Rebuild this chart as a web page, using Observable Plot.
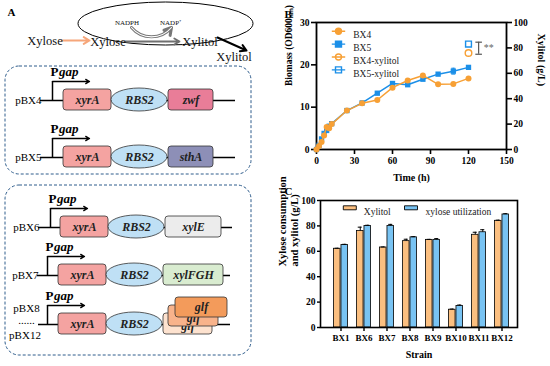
<!DOCTYPE html>
<html><head><meta charset="utf-8">
<script src="https://cdn.jsdelivr.net/npm/d3@7"></script>
<script src="https://cdn.jsdelivr.net/npm/@observablehq/plot@0.6"></script>
<style>
html,body{margin:0;padding:0;background:#fff;}
#fig{position:relative;width:550px;height:366px;overflow:hidden;background:#fff;}
#fig > svg, #fig > figure{position:absolute;margin:0;}
</style></head><body><div id="fig"></div>
<script>
// ================= DATA =================
// Panel B: biomass time course (OD600) and final xylitol (g/L)
const timeH = [0,2,4,6,8,10,12,24,36,48,60,72,84,96,108,120];
const biomassBX4 = [0,0.8,1.8,3.3,5.3,5.0,6.0,9.2,10.9,11.7,14.6,16.3,17.5,15.4,15.5,16.8];
const biomassBX5 = [0,1.0,2.5,3.8,4.5,5.5,6.1,9.2,11.0,13.3,15.6,15.3,16.6,17.8,18.5,19.4];
const errBX4 = [0,0,0,0,0.3,0,0,0,0,0,0.3,0,0.3,0,0,0];
const errBX5 = [0,0,0,0,0,0,0,0,0,0.3,0.4,0,0,0.2,0.7,0.2];
const xylitolTime = [120];
const xylitolBX4 = [76];
const xylitolBX5 = [83];
const sigRange = [75, 84.5];
const sigLabel = "**";
const seriesB = ["BX4","BX5","BX4-xylitol","BX5-xylitol"];
const biomassTicks = [0,10,20,30];
const xylitolTicks = [0,20,40,60,80,100];
const timeTicks = [0,30,60,90,120,150];

// Panel C: xylitol and xylose utilization per strain (g/L)
const strains = ["BX1","BX6","BX7","BX8","BX9","BX10","BX11","BX12"];
const xylitolC = [62,76,63,68,69,14,73,84];
const xylitolCErr = [0.4,3,0.4,1.5,0.4,0.5,2,0.5];
const xyloseUtil = [65,80,80,71,69,17,75,89];
const xyloseUtilErr = [0.5,0.5,1.2,0.5,1,0.7,2,0.6];
const seriesC = ["Xylitol","xylose utilization"];
const yTicksC = [0,20,40,60,80,100];

// Panel A: constructs
const constructNames = [["pBX4"],["pBX5"],["pBX6"],["pBX7"],["pBX8","......","pBX12"]];
const geneSets = [["xyrA","RBS2","zwf"],["xyrA","RBS2","sthA"],["xyrA","RBS2","xylE"],["xyrA","RBS2","xylFGH"],["xyrA","RBS2","glf"]];
const promoterName = ["P","gap"];
const pathwayWords = ["Xylose","Xylose","Xylitol","Xylitol","NADPH","NADP\u207A"];

// ================= STYLE / LAYOUT =================
const serif = '"Liberation Serif","Times New Roman",serif';
const orange = "#f7a035", blue = "#1b8fe8";
const barOrange = "#fbbf80", barBlue = "#78c3f3";
const geneColors = {xyrA:"#f4a3a1", RBS2:"#bfe0f5", zwf:"#e97d98", sthA:"#8d8fb7", xylE:"#ececec", xylFGH:"#d9ecd0", glf:"#f39b5b"};
const stackColors = ["#fde2cf","#f8b38b"];
const fig = document.getElementById("fig");
function place(el, left, top){ el.style.left = left+"px"; el.style.top = top+"px"; fig.appendChild(el); }

// ================= PANEL A =================
const rowY = [100,157,227,275,324];
const rowX0 = [63,63,60,58,58];
const promX = [52,52,50,47,47];
const lineX0 = [40,40,38,37,38];
const lineX1 = [235,235,232,230,230];
const thirdW = [45,45,56,60,52];
const rows = constructNames.map((names,i)=>({names, genes:geneSets[i], y:rowY[i], x0:rowX0[i], px:promX[i], lx0:lineX0[i], lx1:lineX1[i], w:thirdW[i], i}));
const simpleRows = rows.slice(0,4), stackRow = rows.slice(4);
const boxes = [{x1:5,x2:251,y1:66,y2:174},{x1:5,x2:251,y1:185,y2:355}];
const endLabels = [], midLabels = [];
rows.forEach(r=>{
  if (r.names.length===1) endLabels.push({t:r.names[0], x:r.lx0+1, y:r.y});
  else { midLabels.push({t:r.names[0], x:26, y:r.y-16}); midLabels.push({t:r.names[1], x:26, y:r.y-4}); midLabels.push({t:r.names[2], x:24.5, y:r.y+11}); }
});
const wordPos = [[44.5,40],[107.5,41],[199.5,41],[233.5,56],[126.5,22],[170,22]];
const words = pathwayWords.map((t,i)=>({t, x:wordPos[i][0], y:wordPos[i][1], s: i>=4?7:12.5}));
const stackLayers = [
  {dx1:105, dx2:154, dy1:-11, dy2:10, fill:stackColors[0], ty:2},
  {dx1:110, dx2:160, dy1:-19, dy2:2, fill:stackColors[1], ty:-6},
  {dx1:117, dx2:169, dy1:-27, dy2:-7, fill:geneColors.glf, ty:-17}
];
const stackMarks = [];
stackLayers.forEach(L=>{
  stackMarks.push(Plot.rect(stackRow,{x1:d=>d.x0+L.dx1,x2:d=>d.x0+L.dx2,y1:d=>d.y+L.dy1,y2:d=>d.y+L.dy2,fill:L.fill,stroke:"#333",strokeWidth:0.8,rx:3}));
  stackMarks.push(Plot.text(stackRow,{x:d=>d.x0+(L.dx1+L.dx2)/2,y:d=>d.y+L.ty,text:d=>d.genes[2],fontSize:12,fontWeight:"bold",fontStyle:"italic",fill:"#222"}));
});
const panelA = Plot.plot({
  width:270, height:366, margin:0,
  x:{type:"identity"}, y:{type:"identity"},
  style:{fontFamily:serif, background:"transparent", color:"black", overflow:"visible"},
  marks:[
    Plot.text(["A"],{x:()=>11,y:()=>12,fontSize:11,fontWeight:"bold"}),
    // pathway
    Plot.rect([0],{x1:()=>78,x2:()=>253,y1:()=>2,y2:()=>45,rx:88,ry:22,fill:"none",stroke:"black",strokeWidth:1}),
    Plot.arrow([0],{x1:()=>62,x2:()=>89,y1:()=>40,y2:()=>40,stroke:"#f6a67a",strokeWidth:2,headLength:5}),
    Plot.arrow([0],{x1:()=>125,x2:()=>179,y1:()=>41,y2:()=>41,stroke:"#6f6f6f",strokeWidth:1.8,headLength:5}),
    Plot.arrow([0],{x1:()=>217,x2:()=>246,y1:()=>37,y2:()=>50,stroke:"black",strokeWidth:2,headLength:5}),
    Plot.arrow([0],{x1:()=>131,x2:()=>171,y1:()=>27,y2:()=>27,bend:-50,stroke:"#777",strokeWidth:3,headLength:4}),
    Plot.arrow([0],{x1:()=>131,x2:()=>171,y1:()=>27,y2:()=>27,bend:-50,stroke:"white",strokeWidth:1.1,headLength:0}),
    Plot.text(words,{x:"x",y:"y",text:"t",fontSize:"s",fill:"#111"}),
    // dashed boxes
    Plot.rect(boxes,{x1:"x1",x2:"x2",y1:"y1",y2:"y2",rx:14,ry:14,fill:"none",stroke:"#2f5d8c",strokeDasharray:"3,2",strokeWidth:1}),
    // backbone & promoter
    Plot.ruleY(rows,{y:"y",x1:"lx0",x2:"lx1",stroke:"black",strokeWidth:1.6}),
    Plot.ruleX(rows,{x:"px",y1:"y",y2:d=>d.y-19,stroke:"black",strokeWidth:1.5}),
    Plot.arrow(rows,{x1:"px",x2:d=>d.px+37,y1:d=>d.y-19,y2:d=>d.y-19,stroke:"black",strokeWidth:1.3,headLength:5}),
    Plot.text(rows,{x:d=>d.px-2,y:d=>d.y-29,text:()=>promoterName[0],textAnchor:"start",fontSize:13,fontWeight:"bold"}),
    Plot.text(rows,{x:d=>d.px+6.5,y:d=>d.y-29,text:()=>promoterName[1],textAnchor:"start",fontSize:13,fontWeight:"bold",fontStyle:"italic"}),
    Plot.text(endLabels,{x:"x",y:"y",text:"t",textAnchor:"end",fontSize:11}),
    Plot.text(midLabels,{x:"x",y:"y",text:"t",textAnchor:"middle",fontSize:11}),
    // genes
    Plot.rect(rows,{x1:"x0",x2:d=>d.x0+48,y1:d=>d.y-11,y2:d=>d.y+10,fill:geneColors.xyrA,stroke:"#333",strokeWidth:0.8,rx:3}),
    Plot.rect(rows,{x1:d=>d.x0+48,x2:d=>d.x0+104,y1:d=>d.y-12,y2:d=>d.y+11,fill:geneColors.RBS2,stroke:"#333",strokeWidth:0.8,rx:28,ry:11.5}),
    Plot.rect(simpleRows,{x1:d=>d.x0+105,x2:d=>d.x0+105+d.w,y1:d=>d.y-11,y2:d=>d.y+10,fill:d=>geneColors[d.genes[2]],stroke:"#333",strokeWidth:0.8,rx:3}),
    ...stackMarks,
    Plot.text(rows,{x:d=>d.x0+24,y:d=>d.y,text:d=>d.genes[0],fontSize:12,fontWeight:"bold",fontStyle:"italic",fill:"#222"}),
    Plot.text(rows,{x:d=>d.x0+76,y:d=>d.y,text:d=>d.genes[1],fontSize:12,fontWeight:"bold",fontStyle:"italic",fill:"#222"}),
    Plot.text(simpleRows,{x:d=>d.x0+105+d.w/2,y:d=>d.y,text:d=>d.genes[2],fontSize:12,fontWeight:"bold",fontStyle:"italic",fill:"#222"})
  ]
});
place(panelA, 0, 0);

// ================= PANEL B =================
const k = 30/100; // xylitol (g/L) -> biomass axis units
const b4 = timeH.map((t,i)=>({t, v:biomassBX4[i], e:errBX4[i]}));
const b5 = timeH.map((t,i)=>({t, v:biomassBX5[i], e:errBX5[i]}));
const x4 = xylitolTime.map((t,i)=>({t, v:xylitolBX4[i]*k}));
const x5 = xylitolTime.map((t,i)=>({t, v:xylitolBX5[i]*k}));
const sig = [{t: xylitolTime[0]+8, lo: sigRange[0]*k, hi: sigRange[1]*k}];
function legendSym(shape){
  return {draw(ctx){ const r=3; ctx.moveTo(-6.7,0); ctx.lineTo(6.7,0);
    if(shape==="circle"){ ctx.moveTo(r,0); ctx.arc(0,0,r,0,2*Math.PI);} else { ctx.rect(-r,-r,2*r,2*r);} }};
}
const legB = [
  {c:orange, shape:"circle", fill:orange},
  {c:blue, shape:"square", fill:blue},
  {c:orange, shape:"circle", fill:"white"},
  {c:blue, shape:"square", fill:"white"}
];
const legendBMarks = [];
seriesB.forEach((s,i)=>{
  const L = legB[i];
  legendBMarks.push(Plot.dot([s],{frameAnchor:"top-left",dx:22,dy:8.7+i*12.9,symbol:legendSym(L.shape),fill:L.fill,stroke:L.c,strokeWidth:1.4}));
  legendBMarks.push(Plot.text([s],{frameAnchor:"top-left",dx:36.7,dy:8.7+i*12.9,textAnchor:"start",fontSize:9.5,fill:"#222"}));
});
const errMarks = (rowsE, c) => [
  Plot.ruleX(rowsE.filter(d=>d.e>0),{x:"t",y1:d=>d.v-d.e,y2:d=>d.v+d.e,stroke:c,strokeWidth:1}),
  Plot.link(rowsE.filter(d=>d.e>0),{x1:d=>d.t-1.6,x2:d=>d.t+1.6,y1:d=>d.v+d.e,y2:d=>d.v+d.e,stroke:c,strokeWidth:1}),
  Plot.link(rowsE.filter(d=>d.e>0),{x1:d=>d.t-1.6,x2:d=>d.t+1.6,y1:d=>d.v-d.e,y2:d=>d.v-d.e,stroke:c,strokeWidth:1})
];
const panelB = Plot.plot({
  width:280, height:190, marginLeft:46, marginRight:44, marginTop:22, marginBottom:41,
  x:{domain:[0,150]}, y:{domain:[0,30]},
  style:{fontFamily:serif, background:"transparent", color:"black", overflow:"visible"},
  marks:[
    Plot.text(["B"],{frameAnchor:"top-left",dx:-32,dy:-12,fontSize:11,fontWeight:"bold"}),
    Plot.axisX({ticks:timeTicks, tickSize:5, tickPadding:3, strokeWidth:1.6, fontSize:9.5, fontWeight:"bold", label:null}),
    Plot.axisY({ticks:biomassTicks, tickSize:5, tickPadding:2, strokeWidth:1.6, fontSize:9.5, fontWeight:"bold", label:null}),
    Plot.axisY({anchor:"right", ticks:xylitolTicks.map(v=>v*k), tickFormat:d=>Math.round(d/k), tickSize:5, tickPadding:2, strokeWidth:1.6, fontSize:9.5, fontWeight:"bold", label:null}),
    Plot.frame({stroke:"black", strokeWidth:1.8}),
    Plot.text(["Biomass (OD600\u2099\u2098)"],{frameAnchor:"left",dx:-28,rotate:-90,fontSize:9.5,fontWeight:"bold"}),
    Plot.text(["Xylitol (g/L)"],{frameAnchor:"right",dx:35,rotate:90,fontSize:10,fontWeight:"bold"}),
    Plot.text(["Time (h)"],{frameAnchor:"bottom",dy:31,fontSize:10,fontWeight:"bold"}),
    Plot.line(b5,{x:"t",y:"v",stroke:blue,strokeWidth:1.5}),
    ...errMarks(b5, blue),
    Plot.dot(b5,{x:"t",y:"v",symbol:"square",r:3,fill:blue}),
    Plot.line(b4,{x:"t",y:"v",stroke:orange,strokeWidth:1.5}),
    ...errMarks(b4, orange),
    Plot.dot(b4,{x:"t",y:"v",r:3,fill:orange}),
    Plot.dot(x5,{x:"t",y:"v",symbol:"square",r:3.3,fill:"white",stroke:blue,strokeWidth:1.4}),
    Plot.dot(x4,{x:"t",y:"v",r:3.3,fill:"white",stroke:orange,strokeWidth:1.4}),
    Plot.ruleX(sig,{x:"t",y1:"lo",y2:"hi",stroke:"#555",strokeWidth:1.2}),
    Plot.link(sig,{x1:d=>d.t-2.6,x2:d=>d.t+2.6,y1:"lo",y2:"lo",stroke:"#555",strokeWidth:1.2}),
    Plot.link(sig,{x1:d=>d.t-2.6,x2:d=>d.t+2.6,y1:"hi",y2:"hi",stroke:"#555",strokeWidth:1.2}),
    Plot.text(sig,{x:d=>d.t+8,y:d=>(d.lo+d.hi)/2,text:()=>sigLabel,fontSize:10,fill:"#666"}),
    ...legendBMarks
  ]
});
place(panelB, 270, 0);

// ================= PANEL C =================
const rowsC = strains.map((s,i)=>({s, a:xylitolC[i], ae:xylitolCErr[i], b:xyloseUtil[i], be:xyloseUtilErr[i]}));
const xr = [55.5, 247];
const bw = (xr[1]-xr[0])/strains.length, half = bw/2, gw = 7.5, cap = 2.5;
const legendCMarks = [];
[[barOrange,29.3,43.3],[barBlue,90.5,105]].forEach(([c,dxs,dxt],i)=>{
  legendCMarks.push(Plot.dot([seriesC[i]],{frameAnchor:"top-left",dx:dxs,dy:7.3,symbol:{draw(ctx){ctx.rect(-6.5,-2,13,4);}},fill:c,stroke:"black",strokeWidth:0.9}));
  legendCMarks.push(Plot.text([seriesC[i]],{frameAnchor:"top-left",dx:dxt,dy:7.3,textAnchor:"start",fontSize:9.5,fill:"#222"}));
});
const panelC = Plot.plot({
  width:280, height:182, marginLeft:50, marginRight:33, marginTop:16, marginBottom:39,
  x:{domain:strains, range:xr, padding:0}, y:{domain:[0,100]},
  style:{fontFamily:serif, background:"white", color:"black", overflow:"visible"},
  marks:[
    Plot.text(["C"],{frameAnchor:"top-left",dx:-36,dy:-13.5,fontSize:11,fontWeight:"bold"}),
    Plot.barY(rowsC,{x:"s",y:"a",fill:barOrange,stroke:"black",strokeWidth:0.8,insetLeft:half-gw,insetRight:half}),
    Plot.barY(rowsC,{x:"s",y:"b",fill:barBlue,stroke:"black",strokeWidth:0.8,insetLeft:half,insetRight:half-gw}),
    Plot.ruleX(rowsC,{x:"s",y1:"a",y2:d=>d.a+d.ae,dx:-gw/2,stroke:"black",strokeWidth:1}),
    Plot.tickY(rowsC,{x:"s",y:d=>d.a+d.ae,insetLeft:half-gw/2-cap,insetRight:half+gw/2-cap,stroke:"black",strokeWidth:1}),
    Plot.ruleX(rowsC,{x:"s",y1:"b",y2:d=>d.b+d.be,dx:gw/2,stroke:"black",strokeWidth:1}),
    Plot.tickY(rowsC,{x:"s",y:d=>d.b+d.be,insetLeft:half+gw/2-cap,insetRight:half-gw/2-cap,stroke:"black",strokeWidth:1}),
    Plot.axisX({tickSize:4, tickPadding:3, strokeWidth:1.4, fontSize:9, fontWeight:"bold", label:null}),
    Plot.axisY({ticks:yTicksC, tickSize:3, tickPadding:2, strokeWidth:1.4, fontSize:9.5, fontWeight:"bold", label:null}),
    Plot.frame({stroke:"black", strokeWidth:1.6}),
    Plot.text(["Xylose consumption"],{frameAnchor:"left",dx:-37.5,dy:2.5,rotate:-90,fontSize:10.5,fontWeight:"bold"}),
    Plot.text(["and xylitol (g/L)"],{frameAnchor:"left",dx:-26,dy:2.5,rotate:-90,fontSize:10.5,fontWeight:"bold"}),
    Plot.text(["Strain"],{frameAnchor:"bottom",dy:30.5,fontSize:10,fontWeight:"bold"}),
    ...legendCMarks
  ]
});
place(panelC, 270, 184);
</script></body></html>
